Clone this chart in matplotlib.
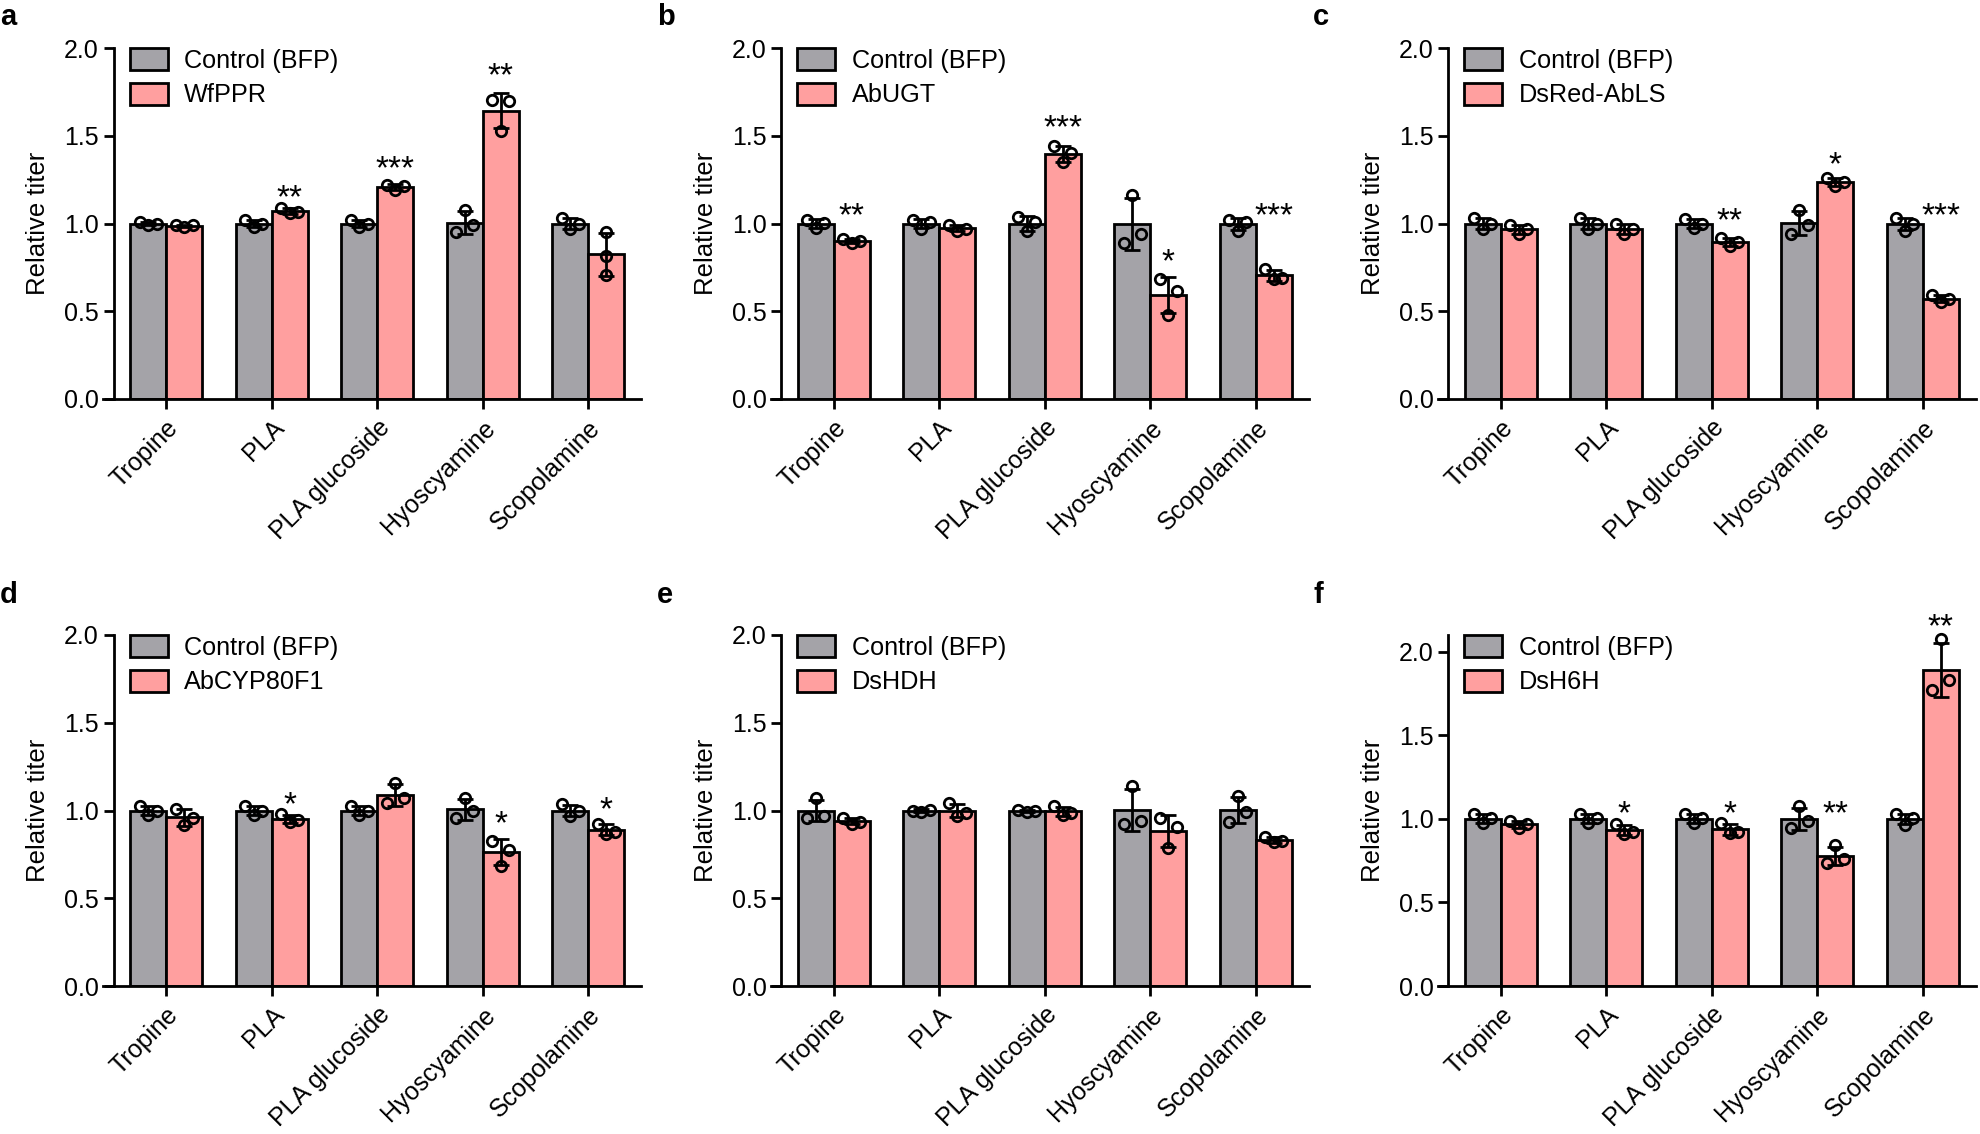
import matplotlib.pyplot as plt
import numpy as np
from matplotlib.patches import Patch
from matplotlib.ticker import FormatStrFormatter

plt.rcParams['font.family'] = ['Liberation Sans', 'DejaVu Sans']

compounds = ['Tropine', 'PLA', 'PLA glucoside', 'Hyoscyamine', 'Scopolamine']
letters = ['a', 'b', 'c', 'd', 'e', 'f']
genes = ['WfPPR', 'AbUGT', 'DsRed-AbLS', 'AbCYP80F1', 'DsHDH', 'DsH6H']
ytops = [2.0, 2.0, 2.0, 2.0, 2.0, 2.1]

# replicates per compound, left-to-right as they sit in the figure
# stars: significance label and the height (titer units) it is centred at
ctrl_a = [[1.01, 0.99, 1.00], [1.02, 0.98, 1.00], [1.02, 0.98, 1.00], [0.95, 1.075, 0.99], [1.03, 0.97, 1.00]]
gene_a = [[0.99, 0.98, 0.99], [1.09, 1.06, 1.065], [1.22, 1.19, 1.216], [1.706, 1.526, 1.696], [0.952, 0.815, 0.709]]
stars_a = ['', '**', '***', '**', '']
star_y_a = [0, 1.20, 1.37, 1.90, 0]

ctrl_b = [[1.02, 0.975, 1.005], [1.02, 0.97, 1.01], [1.035, 0.955, 1.01], [0.89, 1.165, 0.94], [1.02, 0.96, 1.01]]
gene_b = [[0.91, 0.89, 0.90], [0.99, 0.96, 0.97], [1.44, 1.35, 1.40], [0.685, 0.48, 0.615], [0.74, 0.685, 0.69]]
stars_b = ['**', '', '***', '*', '***']
star_y_b = [1.10, 0, 1.60, 0.84, 1.10]

ctrl_c = [[1.03, 0.97, 1.00], [1.03, 0.97, 1.00], [1.025, 0.975, 1.00], [0.94, 1.075, 0.99], [1.03, 0.96, 1.00]]
gene_c = [[0.99, 0.94, 0.97], [1.00, 0.94, 0.97], [0.92, 0.87, 0.895], [1.26, 1.215, 1.235], [0.59, 0.55, 0.57]]
stars_c = ['', '', '**', '*', '***']
star_y_c = [0, 0, 1.07, 1.39, 1.10]

ctrl_d = [[1.025, 0.975, 0.995], [1.025, 0.975, 0.995], [1.025, 0.975, 0.995], [0.955, 1.07, 0.995], [1.035, 0.97, 0.995]]
gene_d = [[1.01, 0.915, 0.96], [0.98, 0.935, 0.945], [1.04, 1.156, 1.07], [0.828, 0.683, 0.774], [0.925, 0.864, 0.88]]
stars_d = ['', '*', '', '*', '*']
star_y_d = [0, 1.09, 0, 0.98, 1.06]

ctrl_e = [[0.96, 1.07, 0.97], [1.00, 0.99, 1.005], [1.005, 0.993, 0.999], [0.925, 1.142, 0.94], [0.935, 1.08, 0.99]]
gene_e = [[0.96, 0.925, 0.935], [1.04, 0.97, 0.985], [1.025, 0.975, 0.985], [0.96, 0.784, 0.905], [0.85, 0.82, 0.828]]
stars_e = ['', '', '', '', '']
star_y_e = [0, 0, 0, 0, 0]

ctrl_f = [[1.027, 0.973, 1.006], [1.027, 0.973, 1.006], [1.027, 0.973, 1.006], [0.943, 1.074, 0.985], [1.027, 0.964, 1.006]]
gene_f = [[0.985, 0.945, 0.97], [0.968, 0.909, 0.922], [0.973, 0.916, 0.922], [0.737, 0.842, 0.758], [1.768, 2.074, 1.832]]
stars_f = ['', '*', '*', '**', '**']
star_y_f = [0, 1.09, 1.09, 1.09, 2.21]

ctrl_all = [ctrl_a, ctrl_b, ctrl_c, ctrl_d, ctrl_e, ctrl_f]
gene_all = [gene_a, gene_b, gene_c, gene_d, gene_e, gene_f]
stars_all = [stars_a, stars_b, stars_c, stars_d, stars_e, stars_f]
star_y_all = [star_y_a, star_y_b, star_y_c, star_y_d, star_y_e, star_y_f]

GRAY = '#a4a3a8'
PINK = '#ff9f9f'
W = 0.34
STAR_FS = 24


def spread(vals, thr=0.075, step=0.08):
    # points that overlap vertically get pushed sideways, like prism does
    order = np.argsort(vals)
    groups, cur = [], [order[0]]
    for i in order[1:]:
        if vals[i] - vals[cur[-1]] < thr:
            cur.append(i)
        else:
            groups.append(cur)
            cur = [i]
    groups.append(cur)
    offs = np.zeros(len(vals))
    for g in groups:
        g = sorted(g)
        n = len(g)
        pos = (np.arange(n) - (n - 1) / 2) * (step if n > 2 else 2 * step)
        for j, k in enumerate(g):
            offs[k] = pos[j]
    return offs


def draw_group(ax, xc, vals, color):
    vals = np.array(vals)
    m, sd = vals.mean(), vals.std(ddof=1)
    ax.bar(xc, m, W, color=color, edgecolor='black', linewidth=2, zorder=1)
    ax.errorbar(xc, m, yerr=sd, fmt='none', ecolor='black', elinewidth=2,
                capsize=6, capthick=2, zorder=2)
    ax.plot(xc + spread(vals), vals, 'o', ms=7.5, mfc='none', mec='black',
            mew=2, zorder=3, clip_on=False)


fig = plt.figure(figsize=(19.8, 11.34), dpi=100)
lefts = [103 / 1980, 770.5 / 1980, 1437.5 / 1980]
bottoms = [1 - 399 / 1134, 1 - 986 / 1134]
letter_x = [0.0, 657 / 1980, 1313 / 1980]
letter_y = [1 - 25 / 1134, 1 - 603 / 1134]

x = np.arange(len(compounds))
for p in range(6):
    r, c = divmod(p, 3)
    ax = fig.add_axes([lefts[c], bottoms[r], 538 / 1980, 351 / 1134])
    for i in range(len(compounds)):
        draw_group(ax, x[i] - W / 2, ctrl_all[p][i], GRAY)
        draw_group(ax, x[i] + W / 2, gene_all[p][i], PINK)
        if stars_all[p][i]:
            # asterisk glyph sits ~0.58 em above the baseline
            ax.annotate(stars_all[p][i], (x[i] + W / 2, star_y_all[p][i]),
                        xytext=(0, -0.58 * STAR_FS), textcoords='offset points',
                        ha='center', va='baseline', fontsize=STAR_FS,
                        annotation_clip=False)

    ax.set_xlim(-0.6, 4.5)
    ax.set_ylim(0, ytops[p])
    ax.set_yticks([0, 0.5, 1.0, 1.5, 2.0])
    ax.yaxis.set_major_formatter(FormatStrFormatter('%.1f'))
    ax.set_xticks(x)
    ax.set_xticklabels(compounds, rotation=45, ha='right', rotation_mode='anchor')
    for s in ['top', 'right']:
        ax.spines[s].set_visible(False)
    for s in ['left', 'bottom']:
        ax.spines[s].set_linewidth(2)
    ax.spines['left'].set_position(('data', -0.5))
    ax.tick_params(width=2, length=7, labelsize=18)
    ax.tick_params(axis='x', pad=5)
    ax.set_ylabel('Relative titer', fontsize=18.5, labelpad=10)

    handles = [Patch(facecolor=GRAY, edgecolor='black', linewidth=2),
               Patch(facecolor=PINK, edgecolor='black', linewidth=2)]
    ax.legend(handles, ['Control (BFP)', genes[p]], loc='upper left',
              bbox_to_anchor=(0.05, 1.0), frameon=False, fontsize=18.2,
              borderpad=0, borderaxespad=0, handlelength=1.5, handleheight=0.95,
              handletextpad=0.65, labelspacing=0.4)

    fig.text(letter_x[c], letter_y[r], letters[p], fontsize=21,
             fontweight='bold', va='baseline', ha='left')

fig.savefig('out.png', dpi=100)
